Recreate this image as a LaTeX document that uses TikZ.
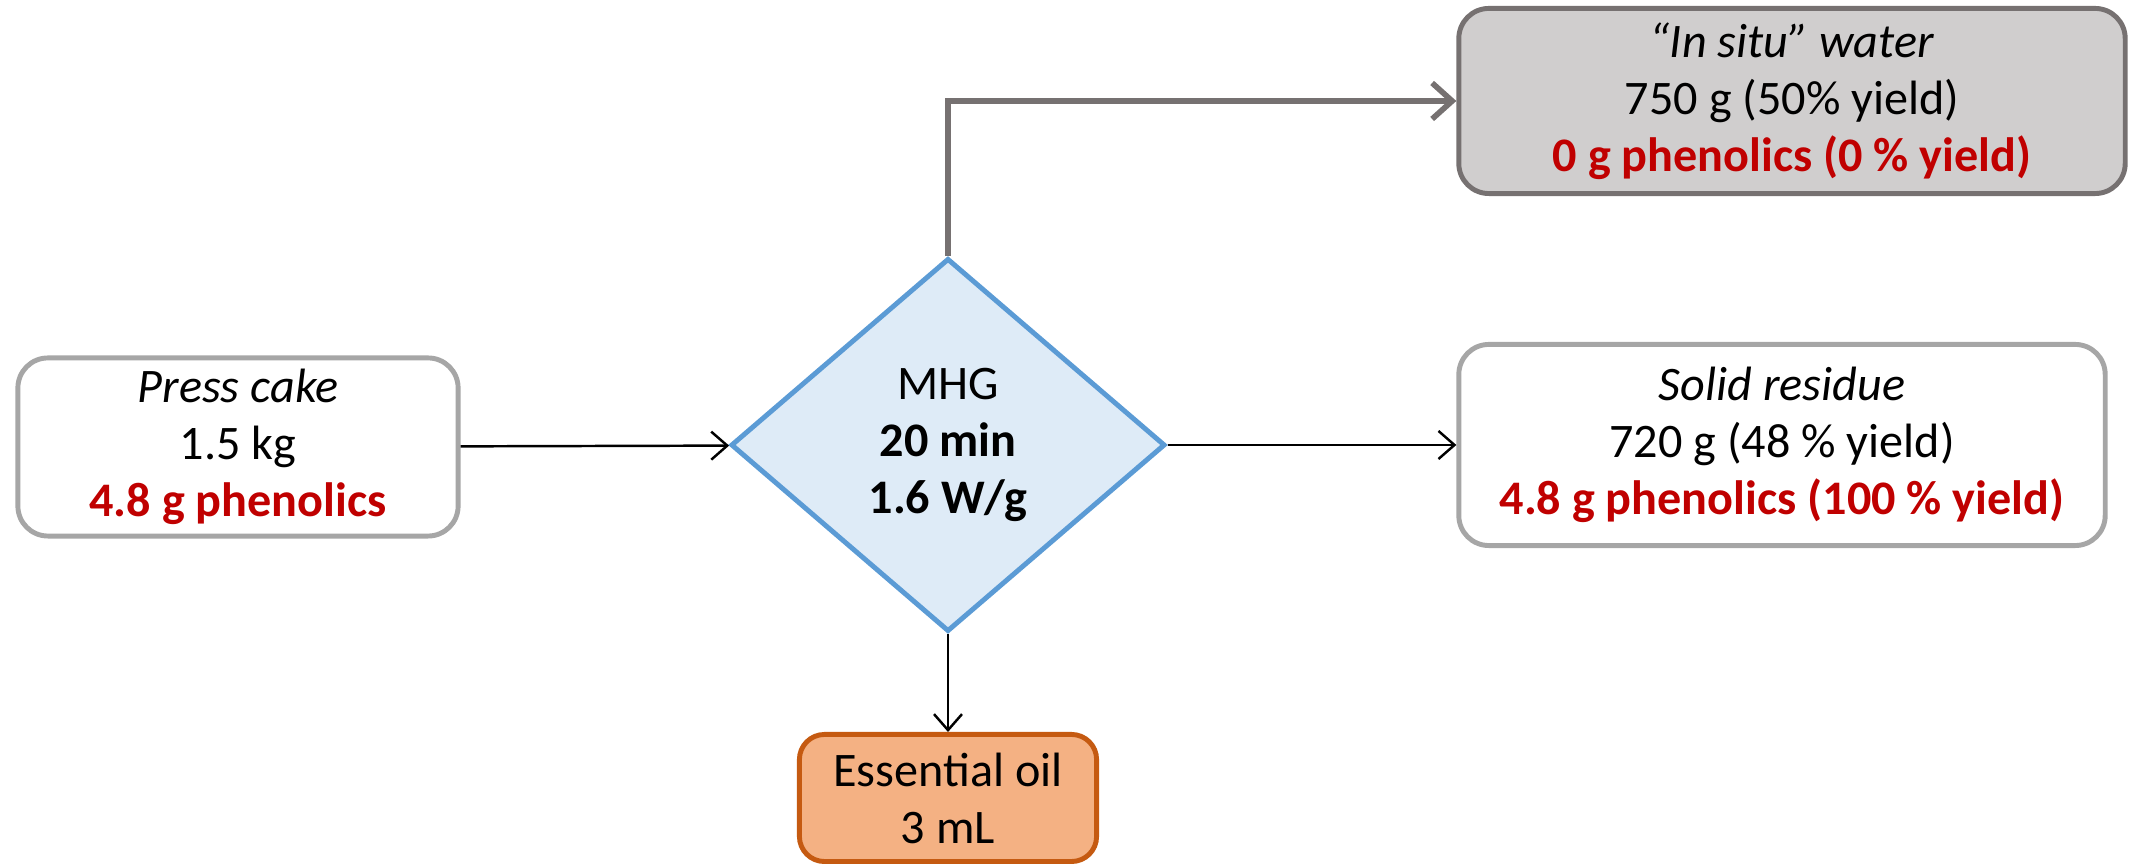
\documentclass[tikz,border=0pt]{standalone}
\usepackage{fontspec}
\setmainfont{Carlito}
\usetikzlibrary{shapes.geometric,arrows.meta}
\definecolor{phenred}{HTML}{C00000}
\definecolor{boxgray}{HTML}{A6A6A6}
\definecolor{watergray}{HTML}{767171}
\definecolor{waterfill}{HTML}{D0CECE}
\definecolor{mhgblue}{HTML}{5B9BD5}
\definecolor{mhgfill}{HTML}{DEEBF7}
\definecolor{oilbrown}{HTML}{C55A11}
\definecolor{oilfill}{HTML}{F4B183}
\newcommand{\phen}[1]{\textcolor{phenred}{\textbf{#1}}}

\begin{document}
\begin{tikzpicture}[x=0.01cm, y=-0.01cm,
	every node/.style={font=\fontsize{13.7}{16.2}\selectfont, align=center},
	box/.style={draw=boxgray, fill=white, line width=1.4pt, rounded corners=0.3cm, inner sep=0pt},
	flow/.style={line width=0.7pt, -{Straight Barb[length=1.6mm, width=2.8mm]}}]
	\useasboundingbox (0,0) rectangle (2145,865);
	\node (cake) [box, minimum width=4.4cm, minimum height=1.78cm] at (238,447) {\textit{Press cake}\\1.5 kg\\\phen{4.8 g phenolics}};
	\node (mhg) [diamond, aspect=1.16, draw=mhgblue, fill=mhgfill, line width=1.4pt, inner sep=0pt, minimum width=4.34cm, minimum height=3.73cm] at (948,445) {MHG\\\textbf{20 min}\\\textbf{1.6 W/g}};
	\node (residue) [box, minimum width=6.46cm, minimum height=2.01cm] at (1782,445) {\textit{Solid residue}\\720 g (48 \% yield)\\\phen{4.8 g phenolics (100 \% yield)}};
	\node (water) [box, draw=watergray, fill=waterfill, minimum width=6.66cm, minimum height=1.85cm] at (1792,101) {\textit{“In situ” water}\\750 g (50\% yield)\\\phen{0 g phenolics (0 \% yield)}};
	\node (oil) [box, draw=oilbrown, fill=oilfill, rounded corners=0.25cm, minimum width=2.97cm, minimum height=1.27cm] at (948,798) {Essential oil\\3 mL};
	\draw[flow] (cake) -- (mhg);
	\draw[flow] (mhg) -- (residue);
	\draw[flow] (mhg) -- (oil);
	\draw[flow, draw=watergray, line width=1.6pt, -{Straight Barb[length=2mm, width=3.6mm]}] (mhg.north) |- (water.west);
\end{tikzpicture}
\end{document}
